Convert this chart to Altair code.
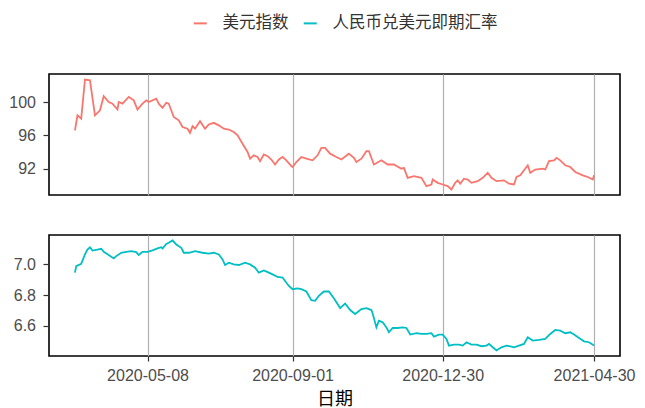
import altair as alt
import pandas as pd

series_names = ["美元指数", "人民币兑美元即期汇率"]
series_colors = ["#F8766D", "#00BFC4"]
tick_dates = ["2020-05-08", "2020-09-01", "2020-12-30", "2021-04-30"]
usd_ticks = [92, 96, 100]
cny_ticks = [6.6, 6.8, 7.0]

usd_dates = [
    "2020-03-11", "2020-03-13", "2020-03-16", "2020-03-19", "2020-03-23", "2020-03-27",
    "2020-03-31", "2020-04-03", "2020-04-07", "2020-04-10", "2020-04-14", "2020-04-15",
    "2020-04-18", "2020-04-23", "2020-04-27", "2020-04-30", "2020-05-04", "2020-05-07",
    "2020-05-09", "2020-05-15", "2020-05-17", "2020-05-20", "2020-05-23", "2020-05-25",
    "2020-05-29", "2020-06-02", "2020-06-05", "2020-06-09", "2020-06-11", "2020-06-13",
    "2020-06-15", "2020-06-19", "2020-06-23", "2020-06-26", "2020-06-30", "2020-07-04",
    "2020-07-08", "2020-07-12", "2020-07-16", "2020-07-19", "2020-07-23", "2020-07-27",
    "2020-07-29", "2020-08-01", "2020-08-04", "2020-08-06", "2020-08-09", "2020-08-12",
    "2020-08-15", "2020-08-18", "2020-08-21", "2020-08-24", "2020-08-27", "2020-08-31",
    "2020-09-01", "2020-09-04", "2020-09-08", "2020-09-12", "2020-09-17", "2020-09-21",
    "2020-09-24", "2020-09-27", "2020-10-01", "2020-10-06", "2020-10-10", "2020-10-16",
    "2020-10-20", "2020-10-22", "2020-10-26", "2020-10-30", "2020-11-01", "2020-11-05",
    "2020-11-11", "2020-11-16", "2020-11-21", "2020-11-27", "2020-11-29", "2020-12-02",
    "2020-12-07", "2020-12-13", "2020-12-17", "2020-12-21", "2020-12-22", "2020-12-26",
    "2020-12-30", "2021-01-03", "2021-01-06", "2021-01-09", "2021-01-11", "2021-01-13",
    "2021-01-16", "2021-01-19", "2021-01-22", "2021-01-27", "2021-01-31", "2021-02-04",
    "2021-02-07", "2021-02-11", "2021-02-17", "2021-02-21", "2021-02-25", "2021-02-27",
    "2021-03-02", "2021-03-07", "2021-03-08", "2021-03-10", "2021-03-14", "2021-03-20",
    "2021-03-22", "2021-03-25", "2021-03-29", "2021-03-31", "2021-04-03", "2021-04-07",
    "2021-04-11", "2021-04-15", "2021-04-21", "2021-04-25", "2021-04-29", "2021-04-30",
]
usd_values = [
    96.6, 98.4, 98.0, 102.7, 102.6, 98.4,
    99.0, 100.7, 100.0, 99.8, 99.1, 100.0,
    99.8, 100.6, 100.2, 99.1, 99.8, 100.2,
    100.0, 100.4, 99.8, 99.3, 99.9, 99.8,
    98.2, 97.8, 97.0, 96.8, 96.3, 97.1,
    96.8, 97.7, 96.8, 97.3, 97.5, 97.2,
    96.8, 96.7, 96.4, 96.0, 95.0, 94.0,
    93.2, 93.6, 93.4, 92.9, 93.7, 93.5,
    93.1, 92.5, 93.1, 93.4, 93.0, 92.3,
    92.2, 92.8, 93.4, 93.2, 93.0, 93.6,
    94.5, 94.5, 93.8, 93.4, 93.1, 93.8,
    93.3, 92.8, 93.2, 94.1, 94.1, 92.5,
    93.0, 92.5, 92.5, 92.0, 92.1, 90.9,
    91.1, 90.9, 89.9, 90.1, 90.7, 90.3,
    90.1, 89.9, 89.5, 90.3, 90.6, 90.2,
    90.8, 90.7, 90.3, 90.5, 90.9, 91.5,
    90.9, 90.5, 90.6, 90.2, 90.1, 91.0,
    91.2, 92.2, 92.4, 91.5, 91.9, 92.0,
    91.9, 92.9, 93.0, 93.3, 93.0, 92.4,
    92.2, 91.6, 91.2, 91.0, 90.7, 91.2,
]

cny_dates = [
    "2020-03-11", "2020-03-12", "2020-03-16", "2020-03-19", "2020-03-21", "2020-03-23",
    "2020-03-25", "2020-03-29", "2020-04-01", "2020-04-03", "2020-04-07", "2020-04-11",
    "2020-04-13", "2020-04-17", "2020-04-21", "2020-04-25", "2020-04-29", "2020-05-01",
    "2020-05-04", "2020-05-08", "2020-05-12", "2020-05-16", "2020-05-19", "2020-05-20",
    "2020-05-23", "2020-05-25", "2020-05-28", "2020-05-31", "2020-06-04", "2020-06-06",
    "2020-06-10", "2020-06-13", "2020-06-15", "2020-06-21", "2020-06-26", "2020-06-30",
    "2020-07-04", "2020-07-07", "2020-07-09", "2020-07-12", "2020-07-16", "2020-07-20",
    "2020-07-25", "2020-07-29", "2020-08-02", "2020-08-05", "2020-08-09", "2020-08-13",
    "2020-08-16", "2020-08-20", "2020-08-24", "2020-08-26", "2020-08-29", "2020-09-01",
    "2020-09-05", "2020-09-08", "2020-09-12", "2020-09-16", "2020-09-19", "2020-09-22",
    "2020-09-26", "2020-09-30", "2020-10-04", "2020-10-09", "2020-10-13", "2020-10-17",
    "2020-10-21", "2020-10-26", "2020-10-30", "2020-11-03", "2020-11-04", "2020-11-07",
    "2020-11-09", "2020-11-12", "2020-11-15", "2020-11-17", "2020-11-20", "2020-11-24",
    "2020-11-28", "2020-12-01", "2020-12-04", "2020-12-09", "2020-12-13", "2020-12-17",
    "2020-12-21", "2020-12-23", "2020-12-27", "2020-12-30", "2021-01-02", "2021-01-04",
    "2021-01-08", "2021-01-12", "2021-01-15", "2021-01-18", "2021-01-22", "2021-01-26",
    "2021-01-30", "2021-02-03", "2021-02-05", "2021-02-08", "2021-02-11", "2021-02-15",
    "2021-02-19", "2021-02-23", "2021-02-25", "2021-03-01", "2021-03-05", "2021-03-08",
    "2021-03-12", "2021-03-17", "2021-03-22", "2021-03-26", "2021-03-30", "2021-04-03",
    "2021-04-07", "2021-04-11", "2021-04-14", "2021-04-18", "2021-04-22", "2021-04-26",
    "2021-04-30",
]
cny_values = [
    6.946, 6.989, 7.004, 7.065, 7.097, 7.112,
    7.090, 7.097, 7.102, 7.082, 7.061, 7.039,
    7.054, 7.076, 7.082, 7.086, 7.080, 7.061,
    7.082, 7.082, 7.091, 7.104, 7.112, 7.104,
    7.134, 7.141, 7.156, 7.130, 7.108, 7.076,
    7.076, 7.082, 7.086, 7.076, 7.071, 7.076,
    7.065, 7.032, 6.996, 7.011, 7.000, 6.996,
    7.011, 7.000, 6.978, 6.946, 6.961, 6.946,
    6.935, 6.918, 6.914, 6.892, 6.859, 6.838,
    6.844, 6.838, 6.823, 6.766, 6.762, 6.795,
    6.823, 6.823, 6.779, 6.715, 6.745, 6.702,
    6.676, 6.708, 6.715, 6.702, 6.680, 6.589,
    6.632, 6.622, 6.589, 6.557, 6.585, 6.585,
    6.589, 6.585, 6.542, 6.551, 6.546, 6.546,
    6.551, 6.529, 6.542, 6.542, 6.514, 6.470,
    6.477, 6.477, 6.470, 6.492, 6.477, 6.477,
    6.466, 6.470, 6.481, 6.459, 6.438, 6.459,
    6.470, 6.464, 6.459, 6.470, 6.481, 6.524,
    6.503, 6.507, 6.514, 6.546, 6.572, 6.568,
    6.551, 6.557, 6.542, 6.520, 6.498, 6.492,
    6.470,
]

df = pd.concat([
    pd.DataFrame({"date": usd_dates, "value": usd_values, "series": series_names[0]}),
    pd.DataFrame({"date": cny_dates, "value": cny_values, "series": series_names[1]}),
], ignore_index=True)


def expand(lo, hi, frac=0.05):
    r = hi - lo
    return [lo - frac * r, hi + frac * r]


def dt(s):
    t = pd.Timestamp(s)
    return alt.DateTime(year=t.year, month=t.month, date=t.day,
                        hours=t.hour, minutes=t.minute, utc=True)


all_dates = pd.to_datetime(df["date"])
dmin, dmax = all_dates.min(), all_dates.max()
span = dmax - dmin
x_lo = dmin - span * 0.05
x_hi = dmax + span * 0.05
x_scale = alt.Scale(type="utc", domain=[dt(x_lo), dt(x_hi)], nice=False)
x_vals = [dt(d) for d in tick_dates]

PLOT_W = 571
PLOT_H = 121

color = alt.Color(
    "series:N",
    scale=alt.Scale(domain=series_names, range=series_colors),
    legend=alt.Legend(
        title=None, orient="none", direction="horizontal",
        legendX=143, legendY=-59,
        symbolType="stroke", symbolSize=170, symbolStrokeWidth=2,
        labelFont="Noto Sans CJK SC", labelFontSize=16.5, labelColor="#333333",
        labelOffset=14, columnPadding=10, labelLimit=400,
    ),
)

y_axis_common = dict(
    title=None, grid=False, domain=False, tickSize=6, tickColor="#333333",
    tickWidth=1.2, labelPadding=7.5, labelFont="Liberation Sans", labelFontSize=16,
    labelColor="#4D4D4D", minExtent=40, maxExtent=40,
)

base = alt.Chart(df).mark_line(strokeWidth=1.8, clip=True)

top = base.transform_filter(alt.datum.series == series_names[0]).encode(
    x=alt.X("date:T", scale=x_scale,
            axis=alt.Axis(values=x_vals, labels=False, ticks=False, title=None,
                          domain=False, grid=True)),
    y=alt.Y("value:Q",
            scale=alt.Scale(domain=expand(min(usd_values), max(usd_values)), nice=False, zero=False),
            axis=alt.Axis(values=usd_ticks, **y_axis_common)),
    color=color,
).properties(width=PLOT_W, height=PLOT_H)

bottom = base.transform_filter(alt.datum.series == series_names[1]).encode(
    x=alt.X("date:T", scale=x_scale,
            axis=alt.Axis(values=x_vals, format="%Y-%m-%d", title="日期",
                          domain=False, grid=True, tickSize=5, tickColor="#333333",
                          tickWidth=1.2, labelPadding=6,
                          labelFont="Liberation Sans", labelFontSize=16,
                          labelColor="#4D4D4D", titleFont="Noto Sans CJK SC",
                          titleFontSize=18, titleFontWeight="normal",
                          titleColor="#000000", titlePadding=7)),
    y=alt.Y("value:Q",
            scale=alt.Scale(domain=expand(min(cny_values), max(cny_values)), nice=False, zero=False),
            axis=alt.Axis(values=cny_ticks, format=".1f", **y_axis_common)),
    color=color,
).properties(width=PLOT_W, height=PLOT_H)

chart = alt.vconcat(top, bottom, spacing=38).properties(
    padding={"left": 0, "top": 7, "right": 0, "bottom": 0},
    background="white",
).configure_view(
    stroke="#000000", strokeWidth=1.6,
).configure_axis(
    gridColor="#B0B0B0", gridWidth=1.2,
)

chart.save("out.html", embed_options={"renderer": "svg", "actions": False})
